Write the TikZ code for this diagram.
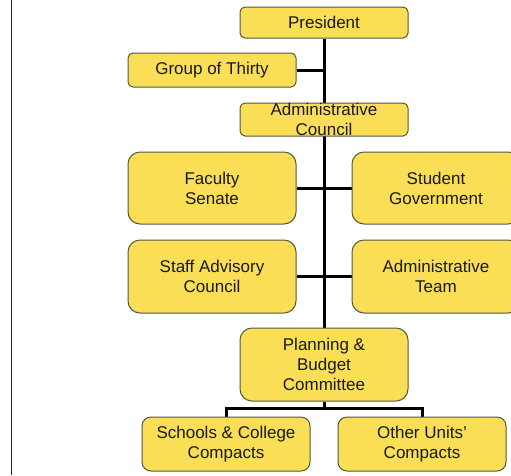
\documentclass[tikz,border=0pt]{standalone}
\usepackage{fontspec}
\setmainfont{Liberation Sans}
\usetikzlibrary{backgrounds}
\begin{document}
\definecolor{boxfill}{RGB}{249,222,86}
\definecolor{boxline}{RGB}{88,84,62}
\definecolor{frameline}{RGB}{40,40,40}
\begin{tikzpicture}[x=1pt, y=-1pt,
  unit/.style={draw=boxline, fill=boxfill, line width=1pt, inner sep=0pt,
    minimum width=168pt, align=center, text=black!90,
    font=\fontsize{17}{20}\selectfont},
  slim/.style={unit, rounded corners=5pt},
  tall/.style={unit, minimum height=73pt, rounded corners=12pt},
  low/.style={unit, minimum height=54pt, rounded corners=9pt},
  conn/.style={draw=black, line width=3pt}]
\clip (0,0) rectangle (511,475);
% page frame on the left
\draw[frameline, line width=1pt] (11,0) -- (11,475);

% boxes
\node[slim, minimum height=31pt] (pres) at (324,22.5) {President};
\node[slim, minimum height=34pt] (g30) at (212,70) {Group of Thirty};
\node[slim, minimum height=33pt] (adc) at (324,119.5) {Administrative\\Council};
\node[tall, minimum height=72pt] (fac) at (212,188) {Faculty\\Senate};
\node[tall, minimum height=72pt] (stu) at (436,188) {Student\\Government};
\node[tall] (staff) at (212,276.5) {Staff Advisory\\Council};
\node[tall] (adt) at (436,276.5) {Administrative\\Team};
\node[tall] (pbc) at (324,364.5) {Planning \&\\Budget\\Committee};
\node[low] (sch) at (226,444) {Schools \& College\\Compacts};
\node[low] (oth) at (422,444) {Other Units’\\Compacts};

% connectors, drawn beneath the boxes
\begin{scope}[on background layer]
  \draw[conn] (pres.south) -- (pbc.north);
  \draw[conn] (g30.east) -- (g30.east -| pres.south);
  \draw[conn] (fac.east) -- (stu.west);
  \draw[conn] (staff.east) -- (adt.west);
  \draw[conn] (pbc.south) -- ++(0,7) coordinate (fork);
  \draw[conn] (sch.north) |- (fork) -| (oth.north);
\end{scope}
\end{tikzpicture}
\end{document}
